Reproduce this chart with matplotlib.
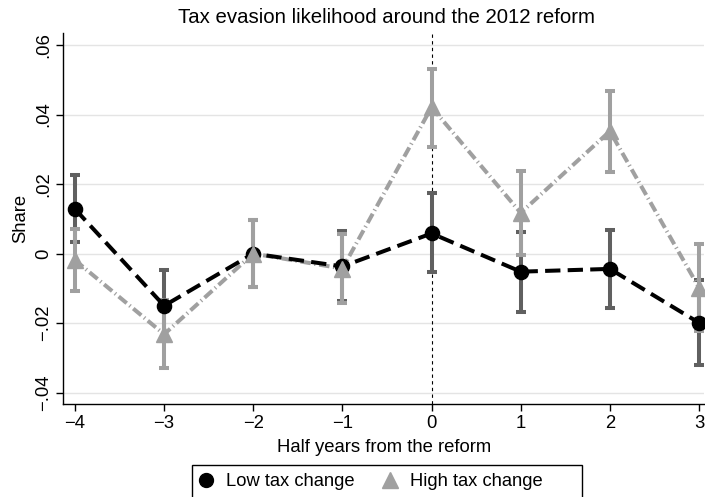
import matplotlib
matplotlib.use("Agg")
import matplotlib.pyplot as plt
from matplotlib.lines import Line2D
from matplotlib.patches import Rectangle
from matplotlib.ticker import FixedLocator, FuncFormatter

plt.rcParams["font.family"] = ["Liberation Sans", "DejaVu Sans"]

# Event time (half years relative to the 2012 reform)
periods = [-4, -3, -2, -1, 0, 1, 2, 3]

# Low tax change group: point estimates and 95% confidence bounds
low_est = [0.0128, -0.0150, 0.0, -0.0037, 0.0058, -0.0052, -0.0044, -0.0199]
low_lo = [0.0032, -0.0252, -0.0095, -0.0137, -0.0052, -0.0167, -0.0156, -0.0321]
low_hi = [0.0225, -0.0047, 0.0096, 0.0064, 0.0173, 0.0063, 0.0069, -0.0077]

# High tax change group: point estimates and 95% confidence bounds
high_est = [-0.0019, -0.0232, 0.0, -0.0043, 0.0421, 0.0117, 0.0352, -0.0098]
high_lo = [-0.0107, -0.0330, -0.0095, -0.0141, 0.0307, -0.0004, 0.0235, -0.0224]
high_hi = [0.0070, -0.0134, 0.0096, 0.0055, 0.0532, 0.0238, 0.0469, 0.0027]

y_ticks = [-0.04, -0.02, 0.0, 0.02, 0.04, 0.06]
x_ticks = [-4, -3, -2, -1, 0, 1, 2, 3]

DARK_CI = "#606060"
LIGHT = "#a0a0a0"

W, H = 705, 497
fig = plt.figure(figsize=(W / 100, H / 100), dpi=100)
ax = fig.add_axes([0.0898, 0.1871, 0.9088, 0.7465])

ax.set_xlim(-4.131, 3.056)
ax.set_ylim(-0.04326, 0.06344)

for v in y_ticks:
    ax.axhline(v, color="#e4e4e4", lw=1.0, zorder=0.5)

ax.axvline(0, color="black", lw=0.8, ls=(0, (3, 3)), zorder=1)


def draw_ci(est, lo, hi, color, z):
    yerr = [[e - l for e, l in zip(est, lo)], [h - e for e, h in zip(est, hi)]]
    cont = ax.errorbar(periods, est, yerr=yerr, fmt="none", ecolor=color,
                       elinewidth=2.9, capsize=3.6, capthick=2.9, zorder=z)
    for col in cont[2]:
        col.set_capstyle("butt")
    for cap in cont[1]:
        cap.set_zorder(z)


draw_ci(low_est, low_lo, low_hi, DARK_CI, 2)
draw_ci(high_est, high_lo, high_hi, LIGHT, 3)

ax.plot(periods, high_est, color=LIGHT, lw=2.9,
        ls=(0, (2.6, 0.9, 0.3, 0.9)), zorder=4)
ax.plot(periods, low_est, color="black", lw=2.9,
        ls=(0, (3.8, 1.8)), zorder=4.5)
ax.plot(periods, low_est, ls="none", marker="o", ms=10.2,
        color="black", zorder=5)
ax.plot(periods, high_est, ls="none", marker="^", ms=11.5,
        color=LIGHT, zorder=6)

for side in ("top", "right"):
    ax.spines[side].set_visible(False)
for side in ("left", "bottom"):
    ax.spines[side].set_linewidth(1.0)

ax.yaxis.set_major_locator(FixedLocator(y_ticks))
ax.xaxis.set_major_locator(FixedLocator(x_ticks))


def fmt_y(v, pos):
    if abs(v) < 1e-12:
        return "0"
    s = f"{abs(v):.2f}".lstrip("0")
    return ("\u2212" if v < 0 else "") + s


def fmt_x(v, pos):
    return ("\u2212" if v < 0 else "") + str(abs(int(round(v))))


ax.yaxis.set_major_formatter(FuncFormatter(fmt_y))
ax.xaxis.set_major_formatter(FuncFormatter(fmt_x))
ax.tick_params(axis="both", direction="out", length=5, width=1.0,
               labelsize=13.3, pad=3)
for lab in ax.get_yticklabels():
    lab.set_rotation(90)
    lab.set_va("center")

ax.set_xlabel("Half years from the reform", fontsize=13.3, labelpad=5)
ax.set_ylabel("Share", fontsize=13.3, labelpad=4)
fig.text(0.548, 0.965, "Tax evasion likelihood around the 2012 reform",
         ha="center", va="center", fontsize=14.7)

# Legend box below the plot; it runs past the lower edge of the figure
fig.patches.append(Rectangle((192 / W, -20 / H), 390 / W, (H - 465 + 20) / H,
                             transform=fig.transFigure, facecolor="white",
                             edgecolor="black", lw=1.0, zorder=0))

handles = [
    Line2D([], [], ls="none", marker="o", ms=10, color="black"),
    Line2D([], [], ls="none", marker="^", ms=11, color=LIGHT),
]
fig.legend(handles, ["Low tax change", "High tax change"],
           loc="center left", bbox_to_anchor=(197 / W, 1 - 482 / H),
           ncol=2, fontsize=13.2, frameon=False, handlelength=1.0,
           handletextpad=0.6, columnspacing=1.42, borderpad=0,
           borderaxespad=0)

fig.savefig("out.png", dpi=100)
